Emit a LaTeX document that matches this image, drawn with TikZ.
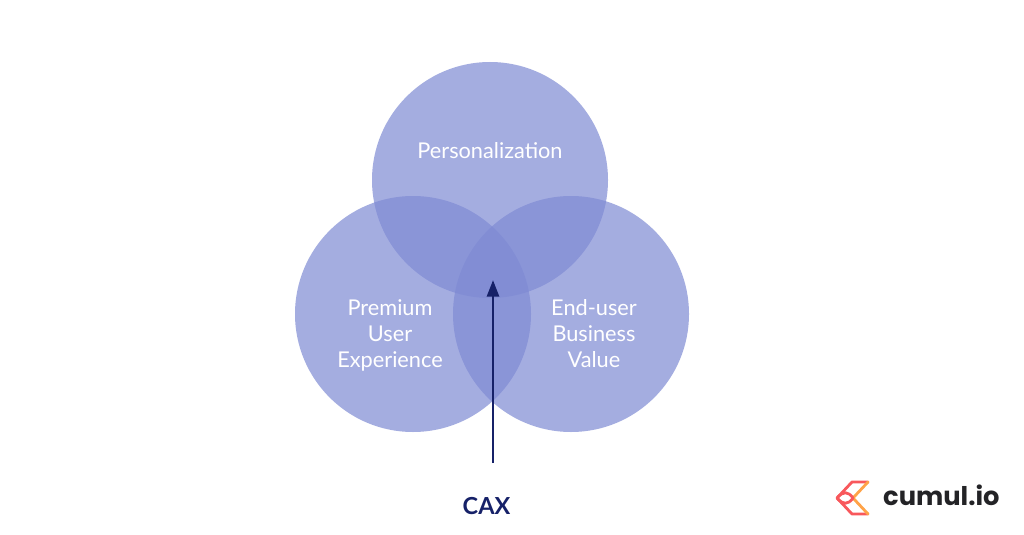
\documentclass[tikz,border=0pt]{standalone}
\usepackage{fontspec}
\setmainfont{Lato}
\newfontfamily\logofont{Poppins}
\usetikzlibrary{arrows.meta,positioning}
\definecolor{cvenn}{RGB}{126,138,211}
\definecolor{cnavy}{RGB}{22,33,104}
\definecolor{clogored}{RGB}{248,88,92}
\definecolor{clogoorg}{RGB}{255,163,72}
\definecolor{clogotxt}{RGB}{35,35,38}
\tikzset{
  venn/.style={circle, fill=cvenn, fill opacity=0.7, minimum size=177pt, inner sep=0pt},
  vlab/.style={text=white, align=center, font=\fontsize{16.3}{19.5}\selectfont},
  caxarr/.style={-{Triangle[length=12.5pt,width=9pt]}, cnavy, line width=2.1pt},
  caxlab/.style={text=cnavy, font=\fontsize{17.6}{20}\selectfont\bfseries},
  lgr/.style={clogored, line width=2.1pt, line join=round, line cap=round},
  lgo/.style={clogoorg, line width=2.1pt, line join=round, line cap=round},
  logolab/.style={text=clogotxt, font=\fontsize{19.3}{24}\logofont\selectfont\bfseries},
}
\begin{document}
\begin{tikzpicture}[x=0.75pt, y=-0.75pt]
  \useasboundingbox (0,0) rectangle (1024,535);
  % circles
  \node[venn] (top) at (490,180) {};
  \node[venn] (lft) at (413,314) {};
  \node[venn] (rgt) at (571,314) {};
  % labels
  \node[vlab] (pers) at (490,151) {Personalization};
  \node[vlab] (prem) at (390,335.5) {Premium\\User\\Experience};
  \node[vlab] (endu) at (594,334) {End-user\\Business\\Value};
  % arrow
  \coordinate (cfrom) at (493,463);
  \coordinate (cto) at (493,280);
  \draw[caxarr] (cfrom) -- (cto);
  \node[caxlab] (cax) at (486.5,506) {CAX};
  % logo
  \draw[lgr] (868,482) -- (852,482) -- (837,498) -- (852,514) -- (868,514);
  \draw[lgo] (868,482) -- (853,498) -- (868,514);
  \draw[lgr] (837,498) .. controls (843,491) and (848,491) .. (853,498) .. controls (848,505) and (843,505) .. (837,498);
  \node[logolab, anchor=west] (logo) at (878.5,495.5) {cumul.io};
\end{tikzpicture}
\end{document}
